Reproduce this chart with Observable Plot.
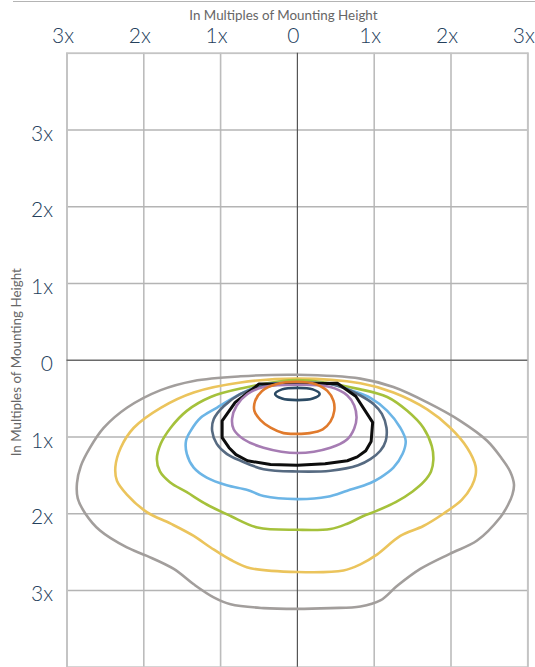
<!DOCTYPE html>
<html>
<head>
<meta charset="utf-8">
<script src="https://cdn.jsdelivr.net/npm/d3@7"></script>
<script src="https://cdn.jsdelivr.net/npm/@observablehq/plot@0.6"></script>
<style>
  html, body { margin: 0; padding: 0; background: #fff; }
  #wrap { position: relative; width: 535px; height: 667px; }
  #topline { position: absolute; left: 13px; right: 0; top: 1px; height: 1px; background: #b4b4b4; }
  svg { display: block; }
</style>
</head>
<body>
<div id="wrap"><div id="topline"></div><div id="chart"></div></div>
<script>
// Tick positions and labels (multiples of mounting height)
const xTicks = [-3, -2, -1, 0, 1, 2, 3];
const xTickLabels = ["3x", "2x", "1x", "0", "1x", "2x", "3x"];
const yTicks = [-3, -2, -1, 0, 1, 2, 3];
const yTickLabels = ["3x", "2x", "1x", "0", "1x", "2x", "3x"];
const axisTitle = "In Multiples of Mounting Height";

// Isofootcandle contours: [x, y] in mounting heights (y positive = in front, drawn downward)
const grayContour = [[0,0.19],[0.82,0.24],[1.25,0.35],[1.69,0.55],[2.12,0.79],[2.47,1.05],[2.66,1.28],[2.77,1.45],[2.82,1.62],[2.80,1.75],[2.74,1.89],[2.64,2.05],[2.34,2.35],[1.99,2.52],[1.60,2.72],[1.30,2.94],[1.08,3.13],[0.82,3.21],[0.43,3.23],[0,3.24],[-0.44,3.23],[-0.87,3.18],[-1.09,3.09],[-1.35,2.92],[-1.61,2.72],[-1.96,2.55],[-2.22,2.44],[-2.57,2.22],[-2.76,2.00],[-2.86,1.80],[-2.87,1.60],[-2.82,1.38],[-2.70,1.14],[-2.52,0.88],[-2.22,0.62],[-1.78,0.39],[-1.35,0.27],[-0.74,0.21]];
const yellowContour = [[0,0.24],[0.82,0.30],[1.25,0.42],[1.69,0.64],[1.99,0.88],[2.21,1.14],[2.32,1.38],[2.32,1.50],[2.27,1.64],[2.14,1.82],[1.90,2.00],[1.64,2.16],[1.34,2.29],[1.04,2.53],[0.82,2.66],[0.60,2.74],[0,2.76],[-0.61,2.71],[-0.87,2.60],[-1.13,2.44],[-1.35,2.29],[-1.65,2.13],[-1.96,1.98],[-2.22,1.75],[-2.35,1.57],[-2.37,1.39],[-2.30,1.14],[-2.13,0.88],[-1.78,0.62],[-1.35,0.42],[-0.74,0.29]];
const greenContour = [[0,0.26],[0.82,0.38],[1.17,0.48],[1.43,0.66],[1.64,0.88],[1.75,1.12],[1.77,1.30],[1.74,1.45],[1.65,1.58],[1.50,1.71],[1.28,1.85],[0.99,1.98],[0.86,2.03],[0.65,2.13],[0.43,2.20],[0,2.21],[-0.52,2.18],[-0.87,2.03],[-1.18,1.88],[-1.44,1.72],[-1.66,1.59],[-1.79,1.45],[-1.83,1.29],[-1.78,1.09],[-1.65,0.88],[-1.44,0.66],[-1.13,0.48],[-0.74,0.37]];
const blueContour = [[0,0.29],[0.43,0.31],[0.72,0.40],[0.95,0.49],[1.17,0.66],[1.34,0.88],[1.41,1.05],[1.37,1.22],[1.25,1.40],[1.08,1.53],[0.95,1.60],[0.65,1.70],[0.39,1.78],[0,1.81],[-0.44,1.77],[-0.65,1.69],[-0.92,1.63],[-1.18,1.53],[-1.35,1.40],[-1.44,1.22],[-1.45,1.05],[-1.39,0.92],[-1.26,0.75],[-1.05,0.62],[-0.74,0.44],[-0.45,0.32]];
const slateContour = [[0,0.30],[0.43,0.31],[0.60,0.36],[0.82,0.46],[0.99,0.57],[1.10,0.70],[1.16,0.88],[1.15,1.05],[1.08,1.18],[0.95,1.29],[0.79,1.37],[0.43,1.44],[0,1.45],[-0.44,1.42],[-0.74,1.31],[-0.92,1.22],[-1.05,1.09],[-1.11,0.92],[-1.09,0.77],[-0.96,0.60],[-0.74,0.44],[-0.52,0.36]];
const blackContour = [[-0.50,0.31],[0,0.31],[0.52,0.30],[0.76,0.47],[0.98,0.81],[0.96,1.06],[0.89,1.18],[0.78,1.26],[0.65,1.31],[0.36,1.35],[0,1.37],[-0.35,1.36],[-0.65,1.31],[-0.80,1.23],[-0.89,1.14],[-0.98,1.01],[-0.98,0.79],[-0.81,0.55]];
const purpleContour = [[0,0.32],[0.43,0.35],[0.65,0.46],[0.74,0.59],[0.77,0.75],[0.74,0.89],[0.65,1.03],[0.43,1.14],[0,1.21],[-0.44,1.14],[-0.70,1.03],[-0.83,0.90],[-0.85,0.76],[-0.79,0.59],[-0.65,0.44],[-0.44,0.35]];
const orangeContour = [[0,0.28],[0.23,0.31],[0.39,0.40],[0.47,0.53],[0.48,0.66],[0.43,0.80],[0.33,0.90],[0.16,0.95],[0,0.96],[-0.18,0.95],[-0.35,0.88],[-0.48,0.78],[-0.56,0.66],[-0.55,0.53],[-0.46,0.40],[-0.27,0.31]];
const navyContour = [[0,0.36],[0.2,0.38],[0.29,0.44],[0.2,0.50],[0,0.52],[-0.2,0.50],[-0.29,0.44],[-0.2,0.38]];

const contours = [
  {pts: grayContour,   color: "#a29e9c", w: 2.6, curve: "catmull-rom-closed"},
  {pts: yellowContour, color: "#ebc45c", w: 2.6, curve: "catmull-rom-closed"},
  {pts: greenContour,  color: "#a5c13b", w: 2.6, curve: "catmull-rom-closed"},
  {pts: blueContour,   color: "#6cb5e6", w: 2.6, curve: "catmull-rom-closed"},
  {pts: slateContour,  color: "#566a81", w: 2.6, curve: "catmull-rom-closed"},
  {pts: blackContour,  color: "#0d0d0d", w: 3.0, curve: "linear-closed"},
  {pts: purpleContour, color: "#a67cb3", w: 2.6, curve: "catmull-rom-closed"},
  {pts: orangeContour, color: "#e07a2c", w: 2.6, curve: "catmull-rom-closed"},
  {pts: navyContour,   color: "#2b4a64", w: 2.6, curve: "catmull-rom-closed"}
];

const labelFont = "Lato, 'Open Sans', sans-serif";
const labelColor = "#24405c";

const plot = Plot.plot({
  width: 535,
  height: 667,
  marginTop: 52.7,
  marginBottom: 0.3,
  marginLeft: 66.5,
  marginRight: 7.7,
  x: {domain: [-3, 3], axis: null},
  y: {domain: [4, -4], axis: null},
  style: {background: "#fff", overflow: "visible"},
  marks: [
    Plot.ruleX(xTicks.filter(d => d !== 0), {stroke: "#bcbcbc", strokeWidth: 1.6}),
    Plot.ruleY(yTicks.filter(d => d !== 0), {stroke: "#b4b4b4", strokeWidth: 1.6}),
    Plot.frame({stroke: "#c4c4c4", strokeWidth: 1.8}),
    Plot.ruleY([0], {stroke: "#6a6a6a", strokeWidth: 1.4}),
    Plot.ruleX([0], {stroke: "#555", strokeWidth: 1.2}),
    ...contours.map(c => Plot.line(c.pts, {
      x: d => d[0], y: d => d[1], curve: c.curve,
      stroke: c.color, strokeWidth: c.w, strokeLinejoin: "round"
    })),
    Plot.text(xTicks, {
      x: d => d, frameAnchor: "top", dy: -17, dx: -4,
      text: (d, i) => xTickLabels[i],
      fontSize: 21, fontWeight: 300, fontFamily: labelFont, fill: labelColor, lineAnchor: "middle"
    }),
    Plot.text(yTicks, {
      y: d => d, frameAnchor: "left", dx: -14, dy: 4, textAnchor: "end",
      text: (d, i) => yTickLabels[i],
      fontSize: 21, fontWeight: 300, fontFamily: labelFont, fill: labelColor, lineAnchor: "middle"
    }),
    Plot.text([axisTitle], {
      frameAnchor: "top", dy: -37.5, dx: -14, text: d => d, textAnchor: "middle",
      fontSize: 13.4, fontFamily: labelFont, fill: "#666", lineAnchor: "middle"
    }),
    Plot.text([axisTitle], {
      frameAnchor: "left", dx: -50, dy: 2, rotate: -90, text: d => d, textAnchor: "middle",
      fontSize: 13.4, fontFamily: labelFont, fill: "#666", lineAnchor: "middle"
    })
  ]
});
document.getElementById("chart").appendChild(plot);
</script>
</body>
</html>
